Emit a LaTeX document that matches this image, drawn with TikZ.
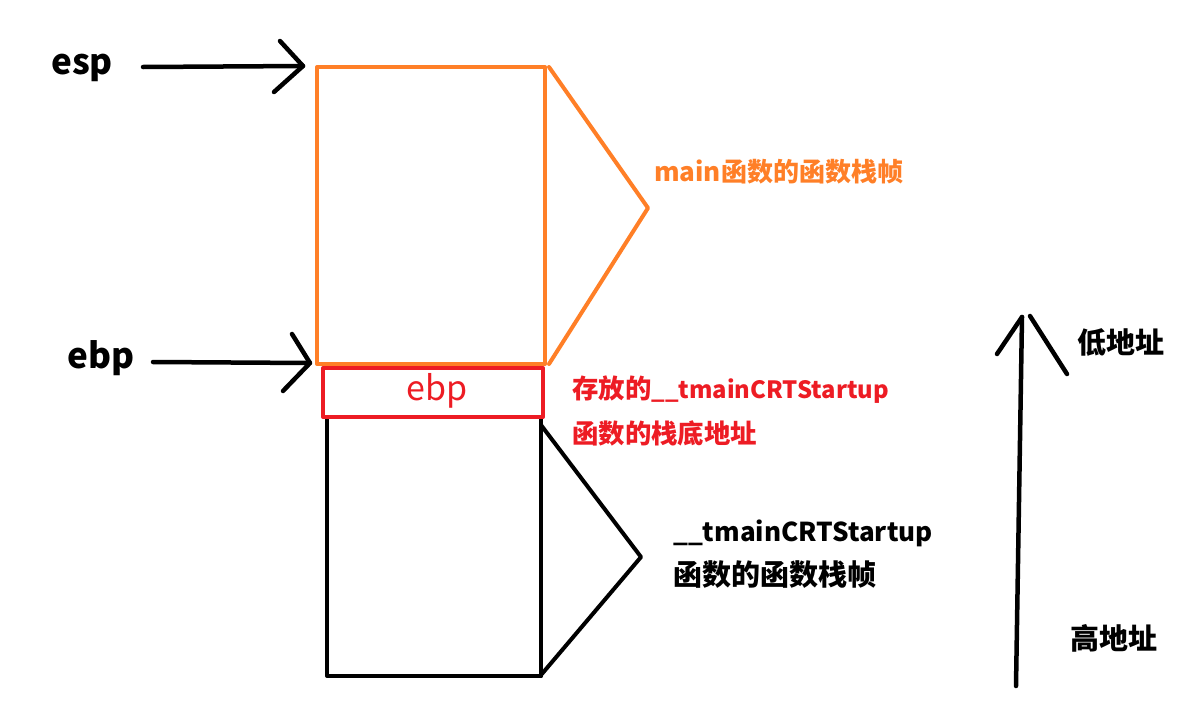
\documentclass[tikz,border=0pt]{standalone}
\usepackage{fontspec}
\setmainfont{Noto Sans CJK SC}
\definecolor{paintorange}{HTML}{FF7F27}
\definecolor{paintred}{HTML}{ED1C24}
\newcommand{\lat}[1]{{\fontsize{#1}{#1}\selectfont}}
\begin{document}
\begin{tikzpicture}[x=1pt,y=-1pt,
  stroke/.style={line width=4pt,line cap=round,line join=round},
  ptr/.style={line width=4.5pt,line cap=round,line join=round,black},
  regname/.style={font=\fontsize{35}{38}\selectfont\bfseries,anchor=base west,inner sep=0pt},
  lbl/.style={font=\fontsize{26}{30}\selectfont\bfseries,anchor=west,inner sep=0pt},
  blbl/.style={font=\fontsize{29}{32}\selectfont\bfseries,anchor=west,inner sep=0pt},
  rlbl/.style={font=\fontsize{26.4}{30}\selectfont\bfseries,anchor=west,inner sep=0pt}]
\useasboundingbox (0,0) rectangle (1203,707);
% boxes
\coordinate (oTL) at (317,67); \coordinate (oBR) at (545,364);
\coordinate (rTL) at (323,368); \coordinate (rBR) at (543,417);
\coordinate (bTL) at (327,419); \coordinate (bBR) at (541,676);
\draw[stroke,paintorange] (oTL) rectangle (oBR);
\draw[stroke,black] (bBR) -- (bBR -| bTL) -- (bTL);
\draw[stroke,black] (bBR) -- (bTL -| bBR);
\draw[stroke,paintred] (rTL) rectangle (rBR);
\node[font=\fontsize{34}{38}\selectfont,text=paintred,inner sep=0pt,anchor=base] (ebpslot) at (437,400) {ebp};
% braces
\coordinate (oA) at (549,67); \coordinate (oTip) at (648,208); \coordinate (oB) at (549,364);
\draw[stroke,paintorange] (oA) -- (oTip) -- (oB);
\coordinate (bA) at (541,425); \coordinate (bTip) at (641,557); \coordinate (bB) at (541,675);
\draw[stroke,black] (bA) -- (bTip) -- (bB);
% labels
\node[lbl,text=paintorange] (mainlbl) at (654,172) {main函数的函数栈帧};
\node[rlbl,text=paintred] (savedA) at (572,390) {存放的{\fontsize{23.8}{30}\selectfont\_\_tmainCRTStartup}};
\node[rlbl,text=paintred] (savedB) at (572,433) {函数的栈底地址};
\node[blbl,text=black] (crtA) at (673,533) {{\fontsize{26}{30}\selectfont\_\_tmainCRTStartup}};
\node[blbl,text=black] (crtB) at (673,575) {函数的函数栈帧};
\node[blbl,text=black] (low) at (1077,343) {低地址};
\node[blbl,text=black] (high) at (1070,638) {高地址};
% esp pointer
\node[regname] (esp) at (51,74) {esp};
\coordinate (espS) at (143,67); \coordinate (espH) at (303,66);
\draw[ptr] (espS) -- (espH);
\draw[ptr] (280,41) -- (espH) -- (274,92);
% ebp pointer
\node[regname] (ebp) at (67,368) {ebp};
\coordinate (ebpS) at (153,362); \coordinate (ebpH) at (310,363);
\draw[ptr] (ebpS) -- (ebpH);
\draw[ptr] (292,334) -- (ebpH) -- (283,391);
% address arrow
\coordinate (addrS) at (1016,686); \coordinate (addrH) at (1022,317);
\draw[ptr] (addrS) -- (addrH);
\draw[ptr] (997,354) -- (addrH);
\draw[ptr] (1030,316) -- (1067,374);
\end{tikzpicture}
\end{document}
